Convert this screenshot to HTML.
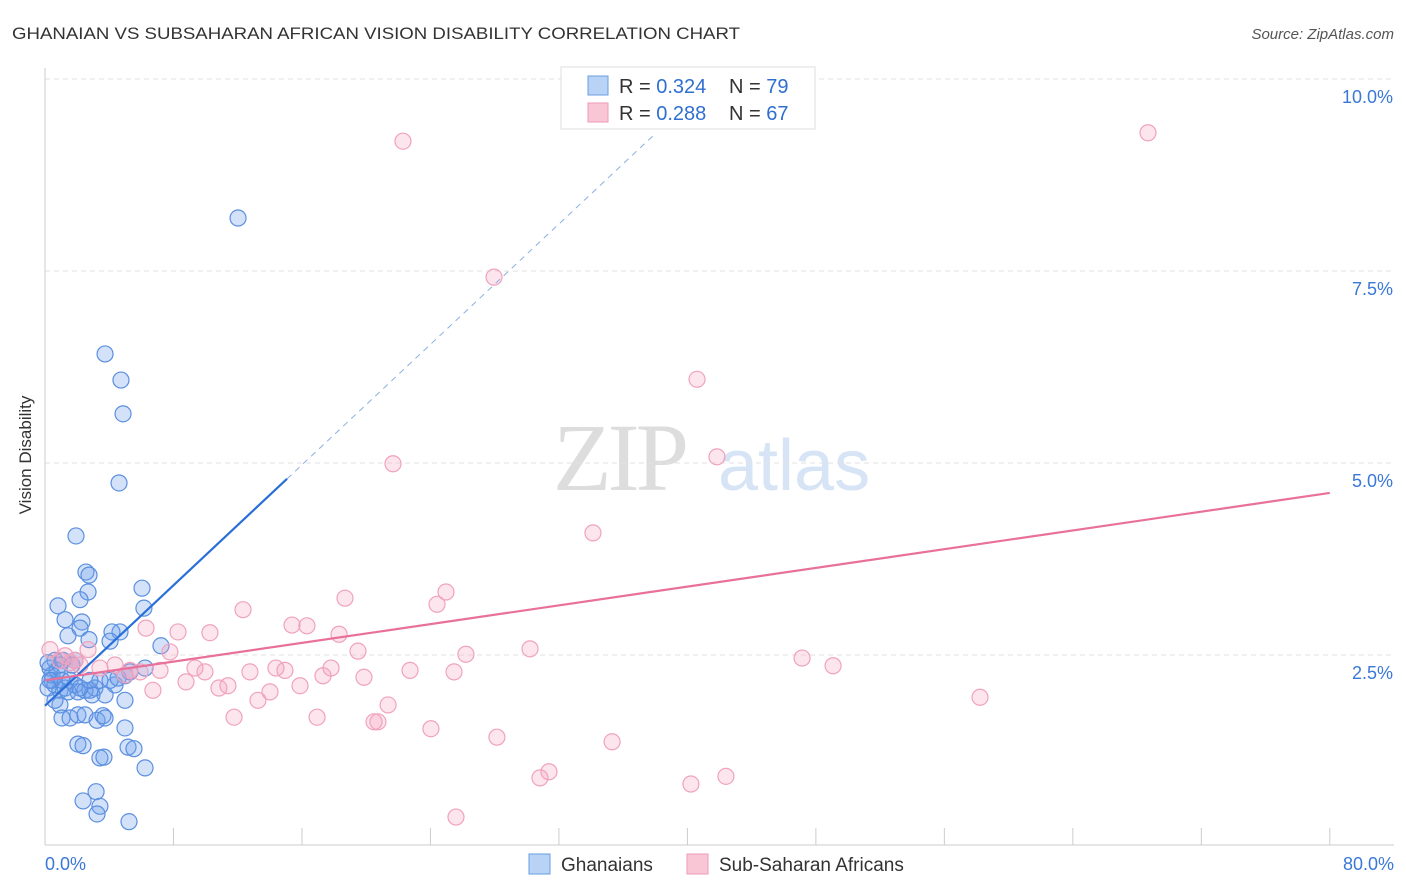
<!DOCTYPE html>
<html><head><meta charset="utf-8"><style>
body{margin:0;background:#fff;font-family:"Liberation Sans",sans-serif}
svg{display:block}
</style></head><body>
<svg id="c" width="1406" height="892" xmlns="http://www.w3.org/2000/svg">
<text x="12" y="39" font-size="17" fill="#333" textLength="728" lengthAdjust="spacingAndGlyphs">GHANAIAN VS SUBSAHARAN AFRICAN VISION DISABILITY CORRELATION CHART</text>
<text x="1394" y="39" font-size="15" fill="#555" text-anchor="end" font-style="italic">Source: ZipAtlas.com</text>
<text x="31" y="455" font-size="17" fill="#333" text-anchor="middle" transform="rotate(-90 31 455)">Vision Disability</text>
<g><text x="553" y="490" font-size="96" fill="#ddd" font-family="Liberation Serif" letter-spacing="-4">ZIP</text><text x="718" y="490" font-size="72" fill="#d6e4f5">atlas</text></g>
<g id="grid"></g><g id="marks"></g>
<g>
<rect x="561" y="67" width="254" height="62" fill="#fff" stroke="#ddd"/>
<rect x="588" y="76" width="20" height="19" fill="#b8d3f5" stroke="#6a9de0"/>
<rect x="588" y="103" width="20" height="19" fill="#f9c6d5" stroke="#ee9ab5"/>
<text x="619" y="93" font-size="20" fill="#333">R = <tspan fill="#2f6fd0">0.324</tspan><tspan x="729">N = </tspan><tspan fill="#2f6fd0">79</tspan></text>
<text x="619" y="120" font-size="20" fill="#333">R = <tspan fill="#2f6fd0">0.288</tspan><tspan x="729">N = </tspan><tspan fill="#2f6fd0">67</tspan></text>
</g>
<g>
<rect x="529" y="854" width="21" height="20" fill="#b8d3f5" stroke="#6a9de0"/>
<text x="561" y="871" font-size="19" fill="#333">Ghanaians</text>
<rect x="687" y="854" width="21" height="20" fill="#f9c6d5" stroke="#ee9ab5"/>
<text x="719" y="871" font-size="19" fill="#333">Sub-Saharan Africans</text>
</g>
</svg>
<script>
const yTicks=[2.5,5.0,7.5,10.0];
const xTickLabels=["0.0%","80.0%"];
const blueX=[12.02,3.74,4.73,4.86,4.61,1.93,2.55,2.74,2.68,0.81,2.18,1.25,2.30,1.43,2.18,2.74,6.04,6.16,4.67,4.17,4.05,7.22,6.23,0.62,0.93,0.31,0.44,0.62,0.93,0.19,1.25,1.56,1.87,2.05,2.80,3.11,3.42,4.36,4.98,4.98,0.93,1.06,1.56,2.05,3.24,3.61,3.74,4.98,2.05,2.37,3.42,3.67,5.17,5.54,6.23,2.37,3.18,3.42,3.24,5.23,0.44,0.75,1.12,1.68,2.49,2.93,4.05,4.55,0.31,1.43,1.87,0.62,0.19,1.06,2.18,2.80,5.29,3.74,2.49];
const blueY=[8.19,6.42,6.08,5.64,4.74,4.05,3.58,3.54,3.32,3.14,3.22,2.96,2.93,2.75,2.85,2.70,3.37,3.11,2.80,2.80,2.68,2.62,2.33,2.43,2.37,2.33,2.17,2.11,2.04,2.07,2.07,2.17,2.11,2.02,2.04,2.07,2.17,2.11,2.23,1.91,1.85,1.68,1.68,1.72,1.65,1.71,1.68,1.55,1.34,1.32,1.16,1.17,1.30,1.28,1.03,0.60,0.72,0.53,0.43,0.33,2.24,2.30,2.43,2.37,2.04,1.98,2.17,2.20,2.17,2.02,2.43,1.91,2.40,2.17,2.07,2.17,2.28,1.98,1.72];
const pinkX=[22.29,68.68,27.96,40.60,41.84,21.67,34.12,24.97,18.68,24.41,12.33,15.38,16.31,6.29,8.28,10.27,18.31,30.20,26.21,19.49,7.78,2.68,47.14,49.07,58.22,0.31,0.93,1.56,2.18,3.42,4.36,5.29,7.16,9.34,9.96,12.76,14.38,14.94,17.81,17.31,19.86,22.73,25.47,8.78,10.83,11.39,14.01,15.88,6.72,13.26,21.36,11.77,16.94,20.49,20.73,24.03,28.14,35.31,31.38,30.82,42.40,40.22,25.59,1.25,1.87,5.92,4.98];
const pinkY=[9.19,9.30,7.42,6.09,5.08,4.99,4.09,3.32,3.24,3.16,3.09,2.89,2.88,2.85,2.80,2.79,2.77,2.58,2.51,2.55,2.54,2.57,2.46,2.36,1.95,2.57,2.43,2.40,2.37,2.33,2.37,2.30,2.30,2.33,2.28,2.28,2.33,2.30,2.33,2.23,2.21,2.30,2.28,2.15,2.07,2.10,2.02,2.10,2.04,1.91,1.85,1.69,1.69,1.63,1.63,1.54,1.43,1.37,0.98,0.90,0.92,0.82,0.39,2.49,2.43,2.28,2.24];
const blueTrend=[1.84,0.196];
const pinkTrend=[2.17,0.0305];
const X=v=>45+v*16.06, Y=v=>847-v*76.8;
const NS="http://www.w3.org/2000/svg";
function mk(t,a,p){const e=document.createElementNS(NS,t);for(const k in a)e.setAttribute(k,a[k]);p.appendChild(e);return e;}
const g=document.getElementById('grid'), m=document.getElementById('marks');
yTicks.forEach(t=>{
 const l=mk('line',{x1:45,x2:1394,y1:Y(t),y2:Y(t),stroke:'#e2e2e2','stroke-dasharray':'5,4'},g);
 
 
 const tx=mk('text',{x:1393,y:Y(t)+24,'font-size':18,fill:'#3a78d8','text-anchor':'end'},g);
 tx.textContent=t.toFixed(1)+'%';
 
 
});
mk('line',{x1:45,x2:1394,y1:845,y2:845,stroke:'#ccc'},g);
mk('line',{x1:45,x2:45,y1:68,y2:845,stroke:'#ccc'},g);
for(let i=0;i<=10;i++){const l=mk('line',{x1:X(i*8),x2:X(i*8),y1:828,y2:845,stroke:'#ccc'},g);
 
 }
[[0,'start',45],[1,'end',1394]].forEach(([i,a,x])=>{const t=mk('text',{x:x,y:870,'font-size':18,fill:'#3a78d8','text-anchor':a},g);t.textContent=xTickLabels[i];
 
 });
blueX.forEach((v,i)=>{const c=mk('circle',{cx:X(v),cy:Y(blueY[i]),r:8,fill:'rgba(110,160,235,0.3)',stroke:'#5a8fe0','stroke-width':1.2},m);
 
 });
pinkX.forEach((v,i)=>{const c=mk('circle',{cx:X(v),cy:Y(pinkY[i]),r:8,fill:'rgba(245,160,190,0.28)',stroke:'#f0a2bd','stroke-width':1.2},m);
 
 });
let l=mk('line',{x1:X(15.07),y1:Y(blueTrend[0]+blueTrend[1]*15.07),x2:X(38),y2:Y(blueTrend[0]+blueTrend[1]*38),stroke:'#8ab0e0','stroke-dasharray':'6,5','stroke-width':1},m);


l=mk('line',{x1:X(0),y1:Y(blueTrend[0]),x2:X(15.07),y2:Y(blueTrend[0]+blueTrend[1]*15.07),stroke:'#2a6fd8','stroke-width':2.2},m);


l=mk('line',{x1:X(0),y1:Y(pinkTrend[0]),x2:X(80),y2:Y(pinkTrend[0]+pinkTrend[1]*80),stroke:'#e8709a','stroke-width':2.2},m);


</script>
</body></html>
